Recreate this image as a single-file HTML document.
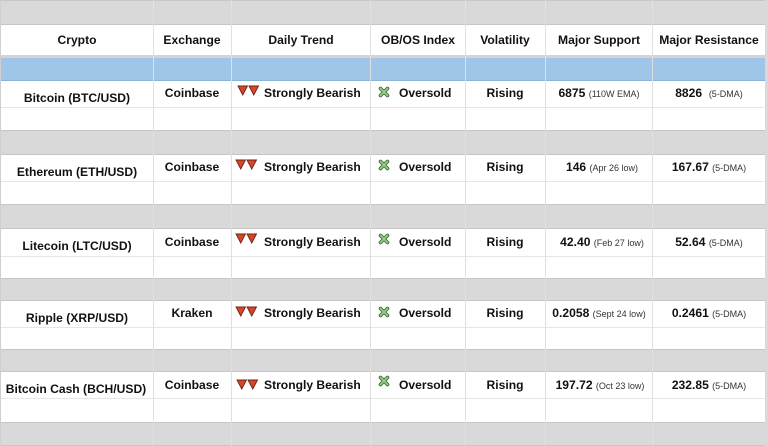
<!DOCTYPE html>
<html><head><meta charset="utf-8"><style>
body{margin:0;width:768px;height:446px;overflow:hidden;background:#fff;font-family:"Liberation Sans",Arial,sans-serif;font-weight:bold;font-size:12.1px;color:#111;position:relative}
.r{position:absolute;left:0;width:768px}
.g{background:#d9d9d9;border-top:1px solid #c6c6c6;border-bottom:1px solid #c6c6c6;box-sizing:border-box}
.v{position:absolute;top:0;height:446px;width:1px;background:#e0e0e0}
.h{position:absolute;left:0;width:765px;height:1px;background:#e6e6e6}
.t{position:absolute;white-space:nowrap;transform:translate(-50%,-50%)}
.l{position:absolute;white-space:nowrap;transform:translateY(-50%)}
small{font-size:9px;font-weight:normal;color:#333}
</style></head><body>
<div class="r g" style="top:0;height:25px"></div>
<div class="r" style="top:55px;height:3px;background:#d4d4d4"></div>
<div class="r" style="top:58px;height:23px;background:#9fc5e8;border-bottom:1px solid #8ab4dc;box-sizing:border-box"></div>
<div class="r g" style="top:130px;height:25px"></div>
<div class="r g" style="top:204px;height:25px"></div>
<div class="r g" style="top:278px;height:23px"></div>
<div class="r g" style="top:349px;height:23px"></div>
<div class="r g" style="top:422px;height:24px"></div>
<div class="h" style="top:107px"></div><div class="h" style="top:181px"></div><div class="h" style="top:256px"></div><div class="h" style="top:327px"></div><div class="h" style="top:398px"></div>
<div class="v" style="left:153px"></div><div class="v" style="left:231px"></div><div class="v" style="left:370px"></div><div class="v" style="left:465px"></div><div class="v" style="left:545px"></div><div class="v" style="left:652px"></div>
<div class="v" style="left:765px;width:3px;background:#d9d9d9"></div>
<div class="v" style="left:0;background:#d0d0d0"></div>

<div class="t" style="left:77px;top:40px">Crypto</div>
<div class="t" style="left:192px;top:40px">Exchange</div>
<div class="t" style="left:301px;top:40px">Daily Trend</div>
<div class="t" style="left:418px;top:40px">OB/OS Index</div>
<div class="t" style="left:505px;top:40px">Volatility</div>
<div class="t" style="left:599px;top:40px">Major Support</div>
<div class="t" style="left:709px;top:40px">Major Resistance</div>

<div class="t" style="left:77px;top:98px">Bitcoin (BTC/USD)</div>
<div class="t" style="left:192px;top:93px">Coinbase</div>
<div class="t" style="left:505px;top:93px">Rising</div>
<div class="t" style="left:599px;top:93px">6875 <small>(110W EMA)</small></div>
<div class="t" style="left:709px;top:93px">8826 &nbsp;<small>(5-DMA)</small></div>

<div class="t" style="left:77px;top:172px">Ethereum (ETH/USD)</div>
<div class="t" style="left:192px;top:167px">Coinbase</div>
<div class="t" style="left:505px;top:167px">Rising</div>
<div class="t" style="left:602px;top:167px">146 <small>(Apr 26 low)</small></div>
<div class="t" style="left:709px;top:167px">167.67 <small>(5-DMA)</small></div>

<div class="t" style="left:77px;top:246px">Litecoin (LTC/USD)</div>
<div class="t" style="left:192px;top:242px">Coinbase</div>
<div class="t" style="left:505px;top:242px">Rising</div>
<div class="t" style="left:602px;top:242px">42.40 <small>(Feb 27 low)</small></div>
<div class="t" style="left:709px;top:242px">52.64 <small>(5-DMA)</small></div>

<div class="t" style="left:77px;top:318px">Ripple (XRP/USD)</div>
<div class="t" style="left:192px;top:313px">Kraken</div>
<div class="t" style="left:505px;top:313px">Rising</div>
<div class="t" style="left:599px;top:313px">0.2058 <small>(Sept 24 low)</small></div>
<div class="t" style="left:709px;top:313px">0.2461 <small>(5-DMA)</small></div>

<div class="t" style="left:76px;top:389px">Bitcoin Cash (BCH/USD)</div>
<div class="t" style="left:192px;top:385px">Coinbase</div>
<div class="t" style="left:505px;top:385px">Rising</div>
<div class="t" style="left:600px;top:385px">197.72 <small>(Oct 23 low)</small></div>
<div class="t" style="left:709px;top:385px">232.85 <small>(5-DMA)</small></div>

<svg width="768" height="446" style="position:absolute;left:0;top:0">
<defs>
<g id="tri"><polygon points="0,0 9.5,0 4.75,9" fill="#d9452b" stroke="#6a2414" stroke-width="0.9"/><polygon points="11,0 20.5,0 15.75,9" fill="#d9452b" stroke="#6a2414" stroke-width="0.9"/></g>
<g id="x"><path d="M1.5,1.5 L8.5,8.5 M8.5,1.5 L1.5,8.5" stroke="#3a6a34" stroke-width="3.6" stroke-linecap="round"/><path d="M1.5,1.5 L8.5,8.5 M8.5,1.5 L1.5,8.5" stroke="#9ad08a" stroke-width="1.8" stroke-linecap="round"/></g>
</defs>
<use href="#tri" x="238" y="86"/><use href="#x" x="379" y="87"/>
<use href="#tri" x="236" y="160"/><use href="#x" x="379" y="160"/>
<use href="#tri" x="236" y="234"/><use href="#x" x="379" y="234"/>
<use href="#tri" x="236" y="307"/><use href="#x" x="379" y="307"/>
<use href="#tri" x="237" y="380"/><use href="#x" x="379" y="376"/>
</svg>
<div class="l" style="left:264px;top:93px">Strongly Bearish</div><div class="l" style="left:399px;top:93px">Oversold</div>
<div class="l" style="left:264px;top:167px">Strongly Bearish</div><div class="l" style="left:399px;top:167px">Oversold</div>
<div class="l" style="left:264px;top:242px">Strongly Bearish</div><div class="l" style="left:399px;top:242px">Oversold</div>
<div class="l" style="left:264px;top:313px">Strongly Bearish</div><div class="l" style="left:399px;top:313px">Oversold</div>
<div class="l" style="left:264px;top:385px">Strongly Bearish</div><div class="l" style="left:399px;top:385px">Oversold</div>
</body></html>
